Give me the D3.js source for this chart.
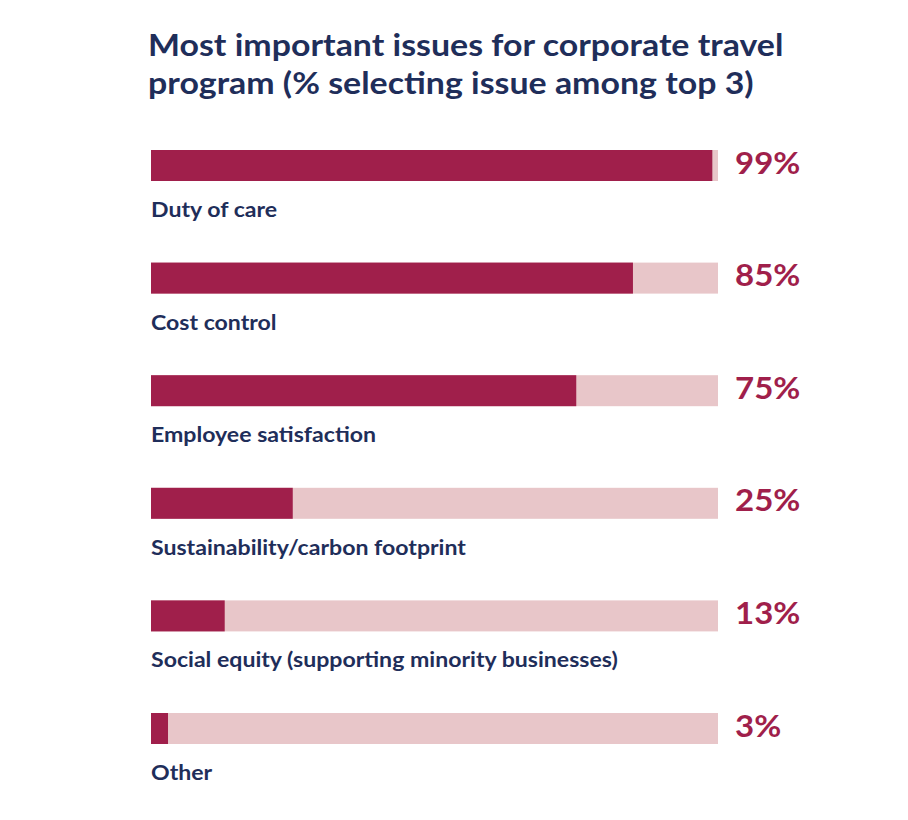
<!DOCTYPE html>
<html>
<head>
<meta charset="utf-8">
<script src="https://cdn.jsdelivr.net/npm/d3@7"></script>
<style>
  html, body { margin: 0; padding: 0; background: #ffffff; }
  svg { display: block; }
</style>
</head>
<body>
<svg id="chart" width="908" height="820"></svg>
<script>
const titleLines = ["Most important issues for corporate travel", "program (% selecting issue among top 3)"];
const categories = ["Duty of care", "Cost control", "Employee satisfaction", "Sustainability/carbon footprint", "Social equity (supporting minority businesses)", "Other"];
const values = [99, 85, 75, 25, 13, 3];
const valueLabels = ["99%", "85%", "75%", "25%", "13%", "3%"];

const W = 908, H = 820;
const svg = d3.select("#chart");
const font = "Lato, 'Open Sans', sans-serif";
const navy = "#1f2e5a";
const crimson = "#a01f4b";
const track = "#e8c6c9";

svg.append("rect").attr("width", W).attr("height", H).attr("fill", "#ffffff");

// Title (slightly stretched horizontally like the reference)
svg.append("g").selectAll("text").data(titleLines).join("text")
  .attr("transform", (d, i) => `translate(148,${56 + i * 38}) scale(1.13,1)`)
  .attr("font-family", font)
  .attr("font-weight", 700)
  .attr("font-size", 30)
  .attr("fill", navy)
  .text(d => d);

const x = d3.scaleLinear().domain([0, 100]).range([151, 718]);
const barH = 31;
const y = d3.scalePoint().domain(categories).range([150, 713]);

const data = categories.map((c, i) => ({ c, v: values[i], lab: valueLabels[i] }));

const g = svg.append("g").selectAll("g").data(data).join("g")
  .attr("transform", d => `translate(0,${y(d.c)})`);

g.append("rect")
  .attr("x", x(0)).attr("y", 0)
  .attr("width", x(100) - x(0)).attr("height", barH)
  .attr("fill", track);

g.append("rect")
  .attr("x", x(0)).attr("y", 0)
  .attr("width", d => x(d.v) - x(0)).attr("height", barH)
  .attr("fill", crimson);

g.append("text")
  .attr("transform", `translate(735,${barH / 2 + 8}) scale(1.1,1)`)
  .attr("font-family", font)
  .attr("font-weight", 700)
  .attr("font-size", 30)
  .attr("fill", crimson)
  .text(d => d.lab);

g.append("text")
  .attr("transform", `translate(151,${barH + 36}) scale(1.1,1)`)
  .attr("font-family", font)
  .attr("font-weight", 700)
  .attr("font-size", 21)
  .attr("fill", navy)
  .text(d => d.c);
</script>
</body>
</html>
